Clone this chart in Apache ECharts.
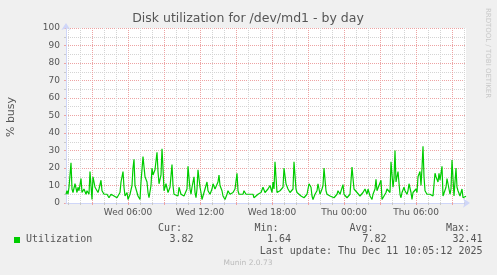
<!DOCTYPE html>
<html>
<head>
<meta charset="utf-8">
<script src="https://cdn.jsdelivr.net/npm/echarts@6/dist/echarts.min.js"></script>
<style>
html,body{margin:0;padding:0;background:#F0F0F0;}
#c{width:497px;height:275px;}
</style>
</head>
<body>
<div id="c"></div>
<script>
// ---- data (5-minute sample slots since Wed 00:50, % busy) ----
const startDayIndex = 3;          // Wed
const startMinute = 50;           // 00:50
const slotMinutes = 5;
const slotCount = 401;
const dayNames = ['Sun','Mon','Tue','Wed','Thu','Fri','Sat'];

const slots = [0,1,2,3,5,6,7,9,11,12,13,15,16,18,20,21,23,24,26,27,29,30,32,33,35,36,38,40,41,43,45,46,48,50,51,53,54,55,57,58,59,61,62,64,66,67,68,69,71,72,74,75,77,79,81,82,83,85,86,87,89,91,92,93,95,96,97,98,
100,102,104,106,107,108,110,112,113,115,116,118,120,121,122,124,125,126,128,129,130,131,132,134,135,136,138,139,141,142,144,146,147,149,151,152,153,154,156,157,159,161,162,164,166,167,169,171,172,173,175,177,178,180,182,183,185,187,188,190,192,193,195,197,199,201,202,204,
206,207,208,209,211,212,214,216,217,218,220,221,222,224,225,227,228,230,231,233,235,236,238,240,241,243,245,246,247,249,251,252,254,256,257,258,260,261,263,264,266,268,269,271,272,274,275,277,278,279,281,283,284,286,288,289,291,292,294,296,297,299,301,302,304,306,307,309,310,311,313,315,
316,318,320,321,322,324,325,327,328,329,330,331,332,334,335,336,338,339,341,342,343,345,346,347,348,350,351,352,354,355,356,357,358,359,361,362,364,366,367,369,370,372,373,374,376,377,378,380,381,382,384,385,386,388,389,390,391,392,394,396,397,399,400];

const values = [5,7,5,9,23,8,6,11,6,9,7,14,6,8,5,7,5,18,2,15,9,10,6,8,13,7,5,4,5,3,5,4,4,5,3,2,6,12,18,9,4,6,2,5,10,20,25,10,6,4,2,12,26.5,15,12,6,3,10,20,16,19,29,18,11,16,31,20,7,
11,6,9,22,10,5,6,4,9,5,6,4,5,8,21,8,5,9,15,6,3,8,19,9,6,2,6,8,12,7,5,8,11,8,9,12,16,10,7,4,2,5,7,5,4,6,8,17,7,5,4,5,7,5,4,5,4,5,3,4,5,4,6,9,6,6,8,10,
6,12,8,23.5,6,5,7,6,9,20,11,12,8,6,5,8,23.5,8,6,5,4,5,3,4,5,11,9,4,2,5,7,11,5,8,10,20,7,5,6,4,5,3,4,5,7,5,6,10.5,5,4,3,4,5,20.5,8,7,6,6,4,5,6,8,5,8,4,2,5,8,13.5,7,6,13,
2,4,6,8,7,6,23.5,9,14,30,12,15,18,5,3,6,9,7,5,7,11,6,2,6,7,8,6,15,18,10,20,32.41,15,7,5,6,5,6,4,17,15,12,17,13,21,4,5,9,14,11,5,8,24.5,4,5,20,9,7,4,8,3,4,3.82];

const yTicks = [0,10,20,30,40,50,60,70,80,90,100];
const seriesName = 'Utilization';
const statHeads = ['Cur:','Min:','Avg:','Max:'];
const statValues = ['3.82','1.64','7.82','32.41'];
const titleText = 'Disk utilization for /dev/md1 - by day';
const yName = '% busy';
const lastUpdate = 'Last update: Thu Dec 11 10:05:12 2025';
const footer = 'Munin 2.0.73';
const watermark = 'RRDTOOL / TOBI OETIKER';

// ---- categories ----
const pad = n => (n < 10 ? '0' : '') + n;
const cats = [];
const catMin = [];
for (let i = 0; i < slotCount; i++) {
  const t = startMinute + i * slotMinutes;
  const d = (startDayIndex + Math.floor(t / 1440)) % 7;
  const m = t % 1440;
  catMin.push(t);
  cats.push(dayNames[d] + ' ' + pad(Math.floor(m / 60)) + ':' + pad(m % 60));
}
const everyHours = h => (idx) => catMin[idx] % (h * 60) === 0;

const data = slots.map((s, i) => [s, values[i]]);

const minorCol = '#d4d4d4';
const majorCol = '#eda3a3';
const axisCol = '#CFD6F8';
const fontCol = '#555555';

const chart = echarts.init(document.getElementById('c'), null, {renderer: 'canvas'});
chart.setOption({
  backgroundColor: '#F0F0F0',
  animation: false,
  grid: {left: 66, top: 28, width: 400, height: 175, show: true, backgroundColor: '#ffffff', borderWidth: 0},
  xAxis: [
    {
      type: 'category', data: cats, boundaryGap: false,
      axisLine: {show: true, lineStyle: {color: axisCol, width: 1}, symbol: ['none', 'arrow'], symbolSize: [7, 7], symbolOffset: [0, 4]},
      axisTick: {show: true, interval: everyHours(1), length: 2, lineStyle: {color: '#c8c8c8'}},
      axisLabel: {show: true, interval: everyHours(6), color: fontCol, fontFamily: 'DejaVu Sans', fontSize: 9, margin: 5},
      splitLine: {show: true, interval: everyHours(1), lineStyle: {color: minorCol, type: [1, 1], width: 1}},
      z: 1
    },
    {
      type: 'category', data: cats, boundaryGap: false, position: 'bottom',
      axisLine: {show: false},
      axisTick: {show: true, interval: everyHours(3), length: 2, lineStyle: {color: majorCol}},
      axisLabel: {show: false},
      splitLine: {show: true, interval: everyHours(3), lineStyle: {color: majorCol, type: [1, 1], width: 1}},
      z: 2
    }
  ],
  yAxis: {
    type: 'value', min: yTicks[0], max: yTicks[yTicks.length - 1], interval: 10,
    axisLine: {show: true, lineStyle: {color: axisCol, width: 1}, symbol: ['none', 'arrow'], symbolSize: [7, 7], symbolOffset: [0, 5]},
    axisTick: {show: true, length: 2, lineStyle: {color: majorCol}},
    minorTick: {show: true, splitNumber: 2, length: 2, lineStyle: {color: '#c8c8c8'}},
    axisLabel: {color: fontCol, fontFamily: 'DejaVu Sans', fontSize: 9, margin: 6},
    splitLine: {show: true, lineStyle: {color: majorCol, type: [1, 1], width: 1}},
    minorSplitLine: {show: true, lineStyle: {color: minorCol, type: [1, 1], width: 1}}
  },
  series: [{
    name: seriesName, type: 'line', xAxisIndex: 0, data: data,
    showSymbol: false, symbol: 'none',
    lineStyle: {color: '#00CC00', width: 1.2}, itemStyle: {color: '#00CC00'},
    z: 5
  }],
  graphic: [
    {type: 'text', style: {text: titleText, x: 248, y: 19, textAlign: 'center', textVerticalAlign: 'middle', verticalAlign: 'middle', fill: fontCol, font: '12.5px "DejaVu Sans"'}},
    {type: 'text', rotation: Math.PI / 2, x: 11, y: 117, style: {text: yName, x: 0, y: 0, textAlign: 'center', textVerticalAlign: 'middle', verticalAlign: 'middle', fill: fontCol, font: '11px "DejaVu Sans"'}},
    {type: 'text', rotation: -Math.PI / 2, x: 488, y: 53, style: {text: watermark, x: 0, y: 0, textAlign: 'center', textVerticalAlign: 'middle', verticalAlign: 'middle', fill: '#c8c8c8', font: '7px "DejaVu Sans"'}},
    {type: 'rect', shape: {x: 14, y: 237, width: 6, height: 6}, style: {fill: '#00CC00'}},
    {type: 'text', style: {text: seriesName, x: 26, y: 239.5, textAlign: 'left', textVerticalAlign: 'middle', verticalAlign: 'middle', fill: fontCol, font: '10px "DejaVu Sans Mono"'}},
    ...statHeads.map((h, i) => ({type: 'text', style: {text: h, x: [182, 278.5, 373.5, 470][i], y: 228, textAlign: 'right', textVerticalAlign: 'middle', verticalAlign: 'middle', fill: fontCol, font: '10px "DejaVu Sans Mono"'}})),
    ...statValues.map((v, i) => ({type: 'text', style: {text: v, x: [193.5, 291, 386.5, 482.5][i], y: 239.5, textAlign: 'right', textVerticalAlign: 'middle', verticalAlign: 'middle', fill: fontCol, font: '10px "DejaVu Sans Mono"'}})),
    {type: 'text', style: {text: lastUpdate, x: 482.5, y: 251, textAlign: 'right', textVerticalAlign: 'middle', verticalAlign: 'middle', fill: fontCol, font: '10px "DejaVu Sans Mono"'}},
    {type: 'text', style: {text: footer, x: 248, y: 263, textAlign: 'center', textVerticalAlign: 'middle', verticalAlign: 'middle', fill: '#bbbbbb', font: '7.5px "DejaVu Sans"'}}
  ]
});
</script>
</body>
</html>
